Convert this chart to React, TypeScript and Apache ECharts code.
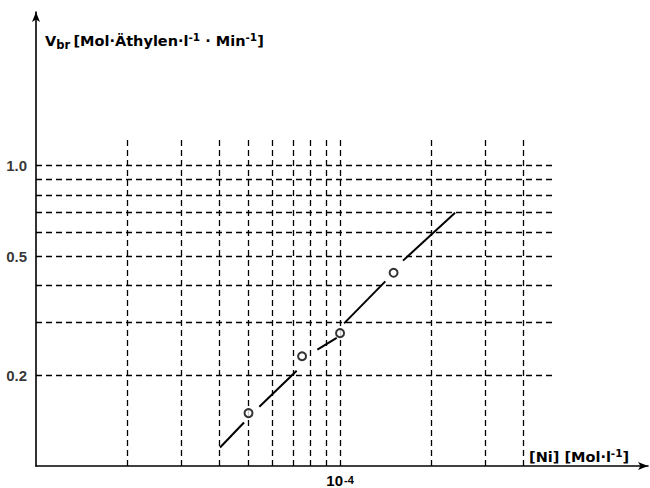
import React, { useEffect, useRef } from "react";
import * as echarts from "echarts";

// Concentration of Ni [Mol·l^-1] and rate V_br
const niConc = [5.0e-5, 7.5e-5, 1.0e-4, 1.5e-4];
const vbr = [0.15, 0.232, 0.277, 0.44];

// Fitted straight line, drawn in pieces (gaps around the measured points)
const fitSegments: number[][] = [
  [0.403e-4, 0.1153, 0.4832e-4, 0.1396],
  [0.5426e-4, 0.1575, 0.7201e-4, 0.2077],
  [0.842e-4, 0.2439, 0.975e-4, 0.2669],
  [1.031e-4, 0.2985, 1.409e-4, 0.412],
  [1.611e-4, 0.483, 2.39e-4, 0.697],
];

// Grid lines
const xGridValues = [2e-5, 3e-5, 4e-5, 5e-5, 6e-5, 7e-5, 8e-5, 9e-5, 1e-4, 2e-4, 3e-4, 4e-4];
const yGridValues = [0.2, 0.3, 0.4, 0.5, 0.6, 0.7, 0.8, 0.9, 1.0];
const yTickLabels = ["0.2", "0.5", "1.0"];
const yTickValues = [0.2, 0.5, 1.0];

const X_MIN = 1e-5;
const X_MAX = 1.03e-3;
const Y_MIN = 0.1;
const Y_MAX = 3.25;
const GRID_X_END = 5e-4;
const GRID_Y_END = 1.25;

const TITLE_FONT = "'DejaVu Sans', 'Liberation Sans', sans-serif";
const NUM_FONT = "'Liberation Sans', Arial, sans-serif";

export default function App() {
  const ref = useRef<HTMLDivElement>(null);
  useEffect(() => {
    if (!ref.current) return;
    const chart = echarts.init(ref.current, undefined, { renderer: "svg" });
    const gridLines = [
      ...xGridValues.map((x) => ({ coords: [[x, Y_MIN], [x, GRID_Y_END]] })),
      ...yGridValues.map((y) => ({ coords: [[X_MIN, y], [GRID_X_END, y]] })),
    ];
    const tStyle = { fontFamily: TITLE_FONT, fontWeight: "bold", fill: "#000", lineHeight: 20 };
    chart.setOption({
      animation: false,
      backgroundColor: "#fff",
      textStyle: { fontFamily: NUM_FONT, color: "#000" },
      grid: { left: 36, right: 2, top: 12, bottom: 22, containLabel: false, outerBoundsMode: "none" },
      xAxis: {
        type: "log",
        logBase: 10,
        min: X_MIN,
        max: X_MAX,
        axisLine: {
          show: true,
          symbol: ["none", "arrow"],
          symbolSize: [6, 10],
          lineStyle: { color: "#000", width: 1.6 },
        },
        axisTick: { show: false },
        splitLine: { show: false },
        axisLabel: {
          show: true,
          margin: 8,
          showMinLabel: false,
          showMaxLabel: false,
          formatter: (v: number) =>
            Math.abs(Math.log10(v) + 4) < 0.01 ? "{b|10}{s|-4}" : "",
          rich: {
            b: { fontSize: 15, fontFamily: NUM_FONT, fontWeight: "bold", color: "#000", verticalAlign: "bottom", lineHeight: 14 },
            s: { fontSize: 11, fontFamily: NUM_FONT, fontWeight: "bold", color: "#000", verticalAlign: "top", lineHeight: 14, padding: [0, 0, 4, 1] },
          },
        },
      },
      yAxis: {
        type: "log",
        logBase: 10,
        min: Y_MIN,
        max: Y_MAX,
        axisLine: {
          show: true,
          symbol: ["none", "arrow"],
          symbolSize: [6, 10],
          lineStyle: { color: "#000", width: 1.6 },
        },
        axisTick: { show: false },
        splitLine: { show: false },
        axisLabel: { show: false },
      },
      graphic: [
        {
          type: "text",
          left: 45,
          top: 31,
          style: {
            text: "{a|V}{sub|br} {a|[Mol·Äthylen·l}{sup|-1}{a| · Min}{sup|-1}{a|]}",
            fill: "#000",
            rich: {
              a: { ...tStyle, fontSize: 14.5, verticalAlign: "middle" },
              sub: { ...tStyle, fontSize: 11.5, verticalAlign: "bottom", padding: [7, 0, 0, 0] },
              sup: { ...tStyle, fontSize: 10.5, verticalAlign: "top", padding: [0, 0, 7, 0] },
            },
          },
        },
        {
          type: "text",
          left: 529,
          top: 447,
          style: {
            text: "{a|[Ni] [Mol·l}{sup|-1}{a|]}",
            fill: "#000",
            rich: {
              a: { ...tStyle, fontSize: 14.5, verticalAlign: "middle" },
              sup: { ...tStyle, fontSize: 10.5, verticalAlign: "top", padding: [0, 0, 7, 0] },
            },
          },
        },
      ],
      series: [
        {
          type: "lines",
          coordinateSystem: "cartesian2d",
          z: 1,
          silent: true,
          data: gridLines,
          lineStyle: { color: "#000", width: 1.3, type: [6, 4], opacity: 1 },
        },
        {
          type: "lines",
          coordinateSystem: "cartesian2d",
          z: 2,
          silent: true,
          data: fitSegments.map((s) => ({ coords: [[s[0], s[1]], [s[2], s[3]]] })),
          lineStyle: { color: "#000", width: 2, type: "solid", opacity: 1 },
        },
        {
          type: "scatter",
          z: 3,
          silent: true,
          symbol: "circle",
          symbolSize: 8,
          itemStyle: { color: "#fff", borderColor: "#000", borderWidth: 2 },
          data: niConc.map((x, i) => [x, vbr[i]]),
        },
        {
          type: "scatter",
          z: 3,
          silent: true,
          symbolSize: 0,
          data: yTickValues.map((y, i) => ({ value: [X_MIN, y], name: yTickLabels[i] })),
          label: {
            show: true,
            position: "left",
            distance: 9,
            formatter: (p: any) => p.name,
            fontSize: 15,
            fontWeight: "bold",
            fontFamily: NUM_FONT,
            color: "#000",
          },
        },
      ],
    });
    return () => chart.dispose();
  }, []);
  return (
    <div
      ref={ref}
      style={{ position: "fixed", left: 0, top: 0, width: 650, height: 488 }}
    />
  );
}
